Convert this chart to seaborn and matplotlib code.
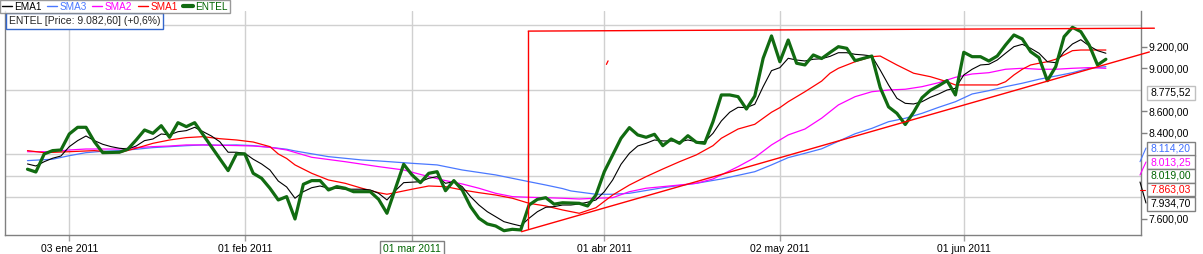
import matplotlib
matplotlib.use("Agg")
import matplotlib.pyplot as plt
import seaborn as sns
import pandas as pd
from matplotlib.lines import Line2D
from matplotlib.patches import Rectangle

# ---------------- data (trading-day index on x) ----------------
entel = [8060, 8034, 8202, 8233, 8239, 8388, 8450, 8450, 8316, 8214,
         8216, 8218, 8246, 8332, 8425, 8394, 8465, 8357, 8493, 8456,
         8493, 8381, 8270, 8158, 8047, 8202, 8202, 8022, 7976, 7883,
         7774, 7805, 7597, 7920, 7954, 7954, 7867, 7898, 7883, 7851,
         7851, 7851, 7780, 7650, 7878, 8106, 8007, 7935, 8022, 8037,
         7860, 7954, 7867, 7712, 7604, 7551, 7532, 7488, 7501, 7495,
         7727, 7780, 7795, 7735, 7748, 7745, 7743, 7718, 7820, 8037,
         8193, 8348, 8447, 8379, 8357, 8385, 8279, 8341, 8301, 8372,
         8311, 8301, 8502, 8751, 8751, 8735, 8620, 8741, 9092, 9300,
         9060, 9262, 9046, 9030, 9123, 9090, 9146, 9200, 9185, 9070,
         9092, 9113, 8820, 8640, 8580, 8476, 8590, 8725, 8794, 8837,
         8884, 8751, 9148, 9107, 9107, 9067, 9113, 9216, 9309, 9272,
         9153, 9098, 8884, 9014, 9293, 9380, 9340, 9216, 9030, 9083]

ema1 = [8109, 8090, 8130, 8162, 8183, 8270, 8326, 8369, 8326, 8292,
        8270, 8255, 8248, 8276, 8326, 8341, 8388, 8379, 8409, 8419,
        8450, 8409, 8369, 8316, 8218, 8218, 8208, 8153, 8109, 8053,
        7950, 7895, 7790, 7851, 7888, 7904, 7883, 7883, 7874, 7874,
        7874, 7867, 7836, 7774, 7860, 7935, 7939, 7944, 7976, 7991,
        7929, 7944, 7898, 7805, 7727, 7665, 7619, 7572, 7551, 7532,
        7604, 7665, 7706, 7712, 7727, 7727, 7737, 7753, 7774, 7851,
        7960, 8106, 8208, 8276, 8301, 8332, 8323, 8323, 8316, 8332,
        8316, 8316, 8394, 8509, 8590, 8636, 8633, 8664, 8828, 8977,
        9005, 9092, 9076, 9067, 9083, 9088, 9110, 9144, 9144, 9129,
        9123, 9113, 8983, 8844, 8720, 8673, 8667, 8688, 8729, 8760,
        8797, 8813, 8937, 8990, 9030, 9036, 9076, 9139, 9200, 9222,
        9185, 9139, 9060, 9051, 9153, 9225, 9265, 9208, 9163, 9139]

sma1_x = [0, 2, 5, 8, 11, 13, 15, 17, 19, 21, 23, 25, 27, 29, 30, 31, 32, 34, 36, 38,
          40, 42, 43, 44, 46, 48, 50, 52, 54, 56, 58, 60, 62, 64, 66, 68, 70, 72, 74, 76,
          78, 80, 82, 83, 85, 87, 89, 90, 91, 93, 95, 96, 97, 99, 101, 102, 104, 106, 108, 110,
          111, 112, 114, 116, 117, 118, 119, 120, 121, 122, 123, 124, 125, 126, 127, 129]
sma1_y = [8233, 8214, 8223, 8233, 8214, 8255, 8301, 8332, 8354, 8363, 8344, 8332, 8313, 8270, 8202, 8160, 8100, 8022, 7960, 7929,
          7883, 7842, 7827, 7842, 7874, 7904, 7898, 7867, 7842, 7820, 7790, 7743, 7718, 7681, 7650, 7702, 7820, 7913, 7991, 8062,
          8130, 8193, 8279, 8348, 8434, 8478, 8590, 8633, 8688, 8781, 8880, 8953, 8999, 9060, 9107, 9113, 9030, 8953, 8921, 8874,
          8844, 8844, 8844, 8844, 8874, 8937, 8990, 9030, 9046, 9060, 9083, 9123, 9163, 9169, 9169, 9169]

sma2_x = [0, 3, 5, 7, 9, 11, 13, 15, 17, 19, 21, 23, 25, 27, 29, 31, 34, 38, 42, 45,
          48, 50, 52, 54, 56, 58, 60, 62, 64, 66, 68, 70, 72, 74, 76, 78, 80, 82, 85, 87,
          89, 91, 93, 95, 97, 99, 101, 103, 105, 107, 109, 111, 113, 115, 117, 119, 121, 123, 125, 127, 129]
sma2_y = [8223, 8223, 8239, 8248, 8248, 8248, 8261, 8270, 8276, 8286, 8286, 8283, 8280, 8276, 8264, 8239, 8171, 8130, 8084, 8053,
          7991, 7954, 7923, 7883, 7836, 7805, 7799, 7795, 7790, 7783, 7790, 7795, 7851, 7883, 7898, 7913, 7929, 7969, 8084, 8168,
          8286, 8379, 8434, 8535, 8658, 8735, 8781, 8797, 8804, 8828, 8865, 8915, 8946, 8958, 8990, 8999, 8990, 8990, 8999, 9005, 8999]

sma3_x = [0, 3, 5, 7, 9, 11, 13, 15, 17, 19, 21, 23, 25, 27, 29, 31, 32, 36, 40, 42,
          46, 49, 52, 56, 60, 62, 64, 65, 68, 70, 72, 76, 80, 83, 87, 89, 91, 93, 95, 97,
          99, 101, 103, 105, 107, 109, 111, 113, 115, 117, 119, 121, 123, 125, 127, 129]
sma3_y = [8140, 8153, 8186, 8214, 8227, 8233, 8246, 8261, 8270, 8279, 8286, 8283, 8286, 8280, 8264, 8246, 8230, 8177, 8146, 8137,
          8115, 8100, 8053, 8007, 7944, 7913, 7880, 7858, 7827, 7827, 7836, 7888, 7929, 7969, 8037, 8100, 8168, 8208, 8250, 8320,
          8390, 8440, 8502, 8534, 8580, 8636, 8688, 8760, 8791, 8828, 8860, 8897, 8927, 8958, 8999, 9014]

# drawing-tool lines (trend / channel)
trend_x = [59.1, 134.2]
trend_y = [7479, 9151]
top_x = [59.9, 134.8]
top_y = [9345, 9372]
vline_x = [59.9, 59.9]
vline_y = [7512, 9345]
mark_x = [69.25, 69.45]
mark_y = [9035, 9068]

tick_pos = [5, 26, 46, 69, 90, 112]
tick_labels = ["03 ene 2011", "01 feb 2011", "01 mar 2011", "01 abr 2011", "02 may 2011", "01 jun 2011"]
ylabel_vals = [9200, 9000, 8600, 8400, 7600]
grid_vals = list(range(7600, 9600, 200))

title_text = "ENTEL [Price: 9.082,60] (+0,6%)"
cursor_label = "8.775,52"
right_labels = ["8.114,20", "8.013,25", "8.019,00", "7.863,03", "7.934,70"]
right_colors = ["#3f6fff", "#ff00ff", "#006400", "#ff0000", "#000000"]

C_GREEN = "#116b11"
C_BLUE = "#4a78ff"
C_MAG = "#ff00ff"
C_RED = "#ff0000"
C_BLACK = "#000000"

# ---------------- figure ----------------
sns.set_style("white")
plt.rcParams["font.family"] = ["Liberation Sans", "DejaVu Sans"]

W, H = 1203, 254
fig = plt.figure(figsize=(W / 100, H / 100), dpi=100)
fig.patch.set_facecolor("white")
ax = fig.add_axes([5 / W, (H - 235) / H, (1141 - 5) / W, (235 - 11) / H])


def fx(px):
    return px / W


def fy(py):
    return 1 - py / H


idx = list(range(len(entel)))
df_main = pd.DataFrame({"i": idx, "entel": entel, "ema1": ema1})
df1 = pd.DataFrame({"i": sma1_x, "v": sma1_y})
df2 = pd.DataFrame({"i": sma2_x, "v": sma2_y})
df3 = pd.DataFrame({"i": sma3_x, "v": sma3_y})

sns.lineplot(data=df3, x="i", y="v", ax=ax, color=C_BLUE, linewidth=0.9, estimator=None, sort=False, legend=False)
sns.lineplot(data=df2, x="i", y="v", ax=ax, color=C_MAG, linewidth=0.9, estimator=None, sort=False, legend=False)
sns.lineplot(data=df1, x="i", y="v", ax=ax, color=C_RED, linewidth=0.9, estimator=None, sort=False, legend=False)
sns.lineplot(data=df_main, x="i", y="ema1", ax=ax, color=C_BLACK, linewidth=0.8, estimator=None, sort=False, legend=False)
sns.lineplot(data=df_main, x="i", y="entel", ax=ax, color=C_GREEN, linewidth=2.3, estimator=None, sort=False, legend=False)

ax.plot(trend_x, trend_y, color=C_RED, lw=1.0, clip_on=False, zorder=5)
ax.plot(top_x, top_y, color=C_RED, lw=1.0, clip_on=False, zorder=5)
ax.plot(vline_x, vline_y, color=C_RED, lw=1.0, zorder=5)
ax.plot(mark_x, mark_y, color=C_RED, lw=0.9, zorder=5)

ax.set_xlim(-2.69, 133.2)
ax.set_ylim(7448, 9532)
ax.set_xlabel("")
ax.set_ylabel("")

# grid
ax.set_xticks(tick_pos)
ax.set_xticklabels(tick_labels)
ax.set_yticks(ylabel_vals)
ax.set_yticklabels([f"{v:,.2f}".replace(",", "X").replace(".", ",").replace("X", ".") for v in ylabel_vals])
ax.set_yticks(grid_vals, minor=True)
ax.yaxis.tick_right()
ax.grid(False)
ax.grid(True, axis="x", which="major", color="#d0d0d0", lw=1.0)
ax.grid(True, axis="y", which="minor", color="#d0d0d0", lw=1.0)
ax.set_axisbelow(True)
ax.tick_params(axis="y", which="minor", length=0)
ax.tick_params(axis="y", which="major", length=4, width=1, color="#808080", pad=1.5,
               labelsize=7.5, labelcolor="black", right=True, left=False)
ax.tick_params(axis="x", which="major", length=4, width=1, color="#a0a0a0", pad=2.5,
               labelsize=7.5, labelcolor="black", bottom=True)
for s in ["left", "bottom", "right"]:
    ax.spines[s].set_visible(True)
    ax.spines[s].set_color("#808080")
    ax.spines[s].set_linewidth(1.0)
ax.spines["top"].set_visible(False)

lab = ax.get_xticklabels()[2]
lab.set_color("#006400")
lab.set_bbox(dict(boxstyle="square,pad=0.25", fc="white", ec="#808080", lw=1))

# legend
handles = [Line2D([], [], color=C_BLACK, lw=1.0),
           Line2D([], [], color=C_BLUE, lw=1.0),
           Line2D([], [], color=C_MAG, lw=1.0),
           Line2D([], [], color=C_RED, lw=1.0),
           Line2D([], [], color=C_GREEN, lw=3.0)]
names = ["EMA1", "SMA3", "SMA2", "SMA1", "ENTEL"]
leg = fig.legend(handles, names, loc="upper left", bbox_to_anchor=(0.0, 1.0), ncol=5,
                 fontsize=7.2, frameon=True, fancybox=False, edgecolor="#808080",
                 handlelength=1.0, handletextpad=0.25, columnspacing=0.55, borderpad=0.15,
                 borderaxespad=0.0)
leg.get_frame().set_linewidth(1.0)
for t, c in zip(leg.get_texts(), [C_BLACK, C_BLUE, C_MAG, C_RED, "#006400"]):
    t.set_color(c)

# title box
fig.text(fx(9), fy(21), title_text, fontsize=7.5, ha="left", va="center",
         bbox=dict(boxstyle="square,pad=0.25", fc="white", ec="#3366cc", lw=1))

# right-side value boxes
def box(x0, y0, w, h, text, color, ec="#808080"):
    fig.patches.append(Rectangle((fx(x0), fy(y0 + h)), w / W, h / H, transform=fig.transFigure,
                                 fc="white", ec=ec, lw=1, zorder=10))
    fig.text(fx(x0 + w / 2), fy(y0 + h / 2), text, color=color, fontsize=7.5,
             ha="center", va="center", zorder=11)


box(1147, 86, 47.5, 13.5, cursor_label, "black", ec="#c0c0c0")
ys = [141.7, 155.2, 168.7, 182.5, 196.7]
for yy, t, c in zip(ys, right_labels, right_colors):
    box(1146.5, yy, 48, 13.8, t, c)

for (x0, y0, x1, y1), c in zip([(1140, 161.7, 1146, 148), (1140, 175, 1146, 162),
                                (1140, 182, 1146, 203), (1140, 190, 1145, 190)],
                               [C_BLUE, C_MAG, C_BLACK, C_RED]):
    fig.add_artist(Line2D([fx(x0), fx(x1)], [fy(y0), fy(y1)], transform=fig.transFigure,
                          color=c, lw=0.8))

fig.savefig("out.png", dpi=100, facecolor="white")
